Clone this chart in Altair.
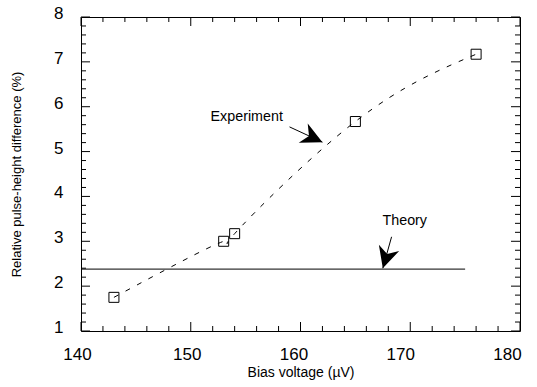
import altair as alt
import pandas as pd

# ---- data ----
exp_x = [143, 153, 154, 165, 176]
exp_y = [1.75, 3.0, 3.17, 5.67, 7.17]

theory_x = [140, 175]
theory_y = [2.38, 2.38]

x_major = [140, 150, 160, 170, 180]
x_minor = [142, 144, 146, 148, 152, 154, 156, 158, 162, 164, 166, 168, 172, 174, 176, 178]
y_major = [1, 2, 3, 4, 5, 6, 7, 8]
y_minor = [round(1 + 0.2 * i, 1) for i in range(36) if i % 5 != 0]

# annotations: text label, text position, arrow tail, arrow tip (data units), arrow angle (deg)
ann_text = ["Experiment", "Theory"]
ann_tx = [155.1, 169.5]
ann_ty = [5.77, 3.45]
arrow_x0 = [159.0, 168.3]
arrow_y0 = [5.55, 3.10]
arrow_x1 = [162.0, 167.5]
arrow_y1 = [5.21, 2.40]
arrow_angle = [25, 107]

W, H = 439, 314
FONT = "Liberation Sans"

xs = alt.Scale(domain=[140, 180], nice=False, zero=False)
ys = alt.Scale(domain=[1, 8], nice=False, zero=False)

exp_df = pd.DataFrame({"x": exp_x, "y": exp_y})
th_df = pd.DataFrame({"x": theory_x, "y": theory_y})
ann_df = pd.DataFrame({"text": ann_text, "tx": ann_tx, "ty": ann_ty,
                       "x0": arrow_x0, "y0": arrow_y0, "x1": arrow_x1, "y1": arrow_y1,
                       "angle": arrow_angle})

xaxis = alt.Axis(values=x_major, ticks=False, tickSize=0, domain=False, grid=False,
                 labelFlush=False, labelOverlap=False,
                 labelOffset={"expr": "datum.value <= 150 ? -4 : -4 - (datum.value - 150) * 0.3"},
                 labelFont=FONT, labelFontSize=17, labelColor="black", labelPadding=15,
                 title="Bias voltage (µV)", titleFont=FONT, titleFontSize=14,
                 titleFontWeight="normal", titleColor="black", titlePadding=3)
yaxis = alt.Axis(values=y_major, ticks=False, tickSize=0, domain=False, grid=False,
                 labelFlush=False, labelOverlap=False, labelOffset=-3.5,
                 labelFont=FONT, labelFontSize=17, labelColor="black", labelPadding=18,
                 title="Relative pulse-height difference (%)", titleFont=FONT,
                 titleFontSize=13, titleFontWeight="normal", titleColor="black",
                 titlePadding=30)

curve = alt.Chart(exp_df).mark_line(
    color="black", strokeWidth=1, strokeDash=[5, 8], interpolate="natural"
).encode(x=alt.X("x:Q", scale=xs, axis=xaxis), y=alt.Y("y:Q", scale=ys, axis=yaxis))

pts = alt.Chart(exp_df).mark_point(
    shape="square", size=100, color="black", strokeWidth=1, filled=False, opacity=1
).encode(x=alt.X("x:Q", scale=xs), y=alt.Y("y:Q", scale=ys))

theory = alt.Chart(th_df).mark_line(color="black", strokeWidth=1).encode(
    x=alt.X("x:Q", scale=xs), y=alt.Y("y:Q", scale=ys))

def ticks_x(vals, length, top):
    df = pd.DataFrame({"v": vals})
    if top:
        return alt.Chart(df).mark_rule(color="black", strokeWidth=1).encode(
            x=alt.X("v:Q", scale=xs), y=alt.value(0), y2=alt.value(length))
    return alt.Chart(df).mark_rule(color="black", strokeWidth=1).encode(
        x=alt.X("v:Q", scale=xs), y=alt.value(H), y2=alt.value(H - length))

def ticks_y(vals, length, right):
    df = pd.DataFrame({"v": vals})
    if right:
        return alt.Chart(df).mark_rule(color="black", strokeWidth=1).encode(
            y=alt.Y("v:Q", scale=ys), x=alt.value(W), x2=alt.value(W - length))
    return alt.Chart(df).mark_rule(color="black", strokeWidth=1).encode(
        y=alt.Y("v:Q", scale=ys), x=alt.value(0), x2=alt.value(length))

tick_layers = [
    ticks_x(x_major, 9, False), ticks_x(x_minor, 5, False),
    ticks_x(x_major, 9, True), ticks_x(x_minor, 5, True),
    ticks_y(y_major, 9, False), ticks_y(y_minor, 5, False),
    ticks_y(y_major, 9, True), ticks_y(y_minor, 5, True),
]

labels = alt.Chart(ann_df).mark_text(
    font=FONT, fontSize=14.3, color="black", align="center", baseline="middle"
).encode(x=alt.X("tx:Q", scale=xs), y=alt.Y("ty:Q", scale=ys), text="text:N")

shafts = alt.Chart(ann_df).mark_rule(color="black", strokeWidth=1).encode(
    x=alt.X("x0:Q", scale=xs), y=alt.Y("y0:Q", scale=ys),
    x2="x1:Q", y2="y1:Q")

ARROW = "M0,0 L-1,-0.5 L-0.7,0 L-1,0.5 Z"
heads = alt.Chart(ann_df).mark_point(
    shape=ARROW, size=1800, filled=True, color="black", strokeWidth=0, opacity=1
).encode(x=alt.X("x1:Q", scale=xs), y=alt.Y("y1:Q", scale=ys),
         angle=alt.Angle("angle:Q", scale=None))

chart = alt.layer(
    curve, theory, pts, *tick_layers, shafts, heads, labels
).properties(
    width=W, height=H,
    autosize=alt.AutoSizeParams(type="none"),
    padding={"left": 81, "top": 17, "right": 17, "bottom": 56},
    background="white",
).configure_view(stroke="black", strokeWidth=1)

chart.save("out.html", embed_options={"renderer": "svg", "actions": False})
